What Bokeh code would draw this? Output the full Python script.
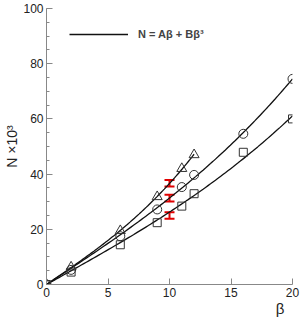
import numpy as np
from bokeh.plotting import figure
from bokeh.models import (Legend, LegendItem, Whisker, TeeHead, Title,
                          ColumnDataSource, FixedTicker)
from bokeh.embed import file_html
from bokeh.resources import INLINE

# ---- data ----
beta_tri = [0, 2, 6, 9, 11, 12]
N_tri = [0, 6.3, 19.5, 31.8, 42.0, 47.0]
beta_cir = [0, 2, 6, 9, 11, 12, 16, 20]
N_cir = [0, 5.3, 17.5, 27.2, 35.3, 39.7, 54.6, 74.5]
beta_sq = [0, 2, 6, 9, 11, 12, 16, 20]
N_sq = [0, 4.5, 14.4, 22.4, 28.4, 32.9, 47.9, 60.0]

eb_beta = [10, 10, 10]
eb_N = [36.7, 31.3, 25.0]
eb_err = [1.2, 1.2, 1.2]

x_ticks = [0, 5, 10, 15, 20]
y_ticks = [0, 20, 40, 60, 80, 100]

FONT = "Liberation Sans"
MK = "#333333"

p = figure(width=300, height=321, x_range=(0, 20), y_range=(0, 100),
           output_backend="svg", toolbar_location=None,
           min_border_left=46, min_border_right=8, min_border_top=8,
           min_border_bottom=37)
p.outline_line_color = None
p.grid.visible = False
p.background_fill_color = "white"
p.border_fill_color = "white"

for ax in (p.xaxis[0], p.yaxis[0]):
    ax.axis_line_color = "#888888"
    ax.major_tick_line_color = "#888888"
    ax.minor_tick_line_color = "#888888"
    ax.major_tick_in = 6
    ax.major_tick_out = 0
    ax.minor_tick_in = 3
    ax.minor_tick_out = 0
    ax.major_label_text_font = FONT
    ax.major_label_text_font_size = "12px"
    ax.major_label_text_color = "#222222"
p.xaxis.ticker = FixedTicker(ticks=x_ticks)
p.yaxis.ticker = FixedTicker(ticks=y_ticks,
                             minor_ticks=[v for v in range(0, 101, 5)])
p.xaxis.minor_tick_line_color = None
p.xaxis.major_label_standoff = 3
p.yaxis.major_label_standoff = 3

p.yaxis.axis_label = "N ×10³"
p.yaxis.axis_label_text_font = FONT
p.yaxis.axis_label_text_font_size = "14px"
p.yaxis.axis_label_text_font_style = "normal"
p.yaxis.axis_label_text_color = "#222222"
p.yaxis.axis_label_standoff = 0

p.add_layout(Title(text="β", align="right", offset=8, standoff=0,
                   vertical_align="top",
                   text_font=FONT, text_font_size="15px",
                   text_font_style="normal", text_color="#222222"), "below")


def fit_curve(b, n):
    b = np.asarray(b, float)
    n = np.asarray(n, float)
    M = np.column_stack([b, b ** 3])
    (A, B), *_ = np.linalg.lstsq(M, n, rcond=None)
    xs = np.linspace(0, b.max(), 100)
    return xs, A * xs + B * xs ** 3


curve_r = None
for b, n in ((beta_tri, N_tri), (beta_cir, N_cir), (beta_sq, N_sq)):
    xs, ys = fit_curve(b, n)
    r = p.line(xs, ys, line_color="#111111", line_width=1.3)
    if curve_r is None:
        curve_r = r

p.scatter(beta_tri, N_tri, marker="triangle", size=10, fill_color=None,
          line_color=MK, line_width=1)
p.scatter(beta_cir, N_cir, marker="circle", size=9, fill_color=None,
          line_color=MK, line_width=1)
p.scatter(beta_sq, N_sq, marker="square", size=8, fill_color=None,
          line_color=MK, line_width=1)

src = ColumnDataSource(dict(
    base=eb_beta,
    lower=[v - e for v, e in zip(eb_N, eb_err)],
    upper=[v + e for v, e in zip(eb_N, eb_err)],
))
wh = Whisker(source=src, base="base", lower="lower", upper="upper",
             dimension="height", line_color="#e00000", line_width=2,
             upper_head=TeeHead(size=10, line_color="#e00000", line_width=2),
             lower_head=TeeHead(size=10, line_color="#e00000", line_width=2))
p.add_layout(wh)

legend = Legend(items=[LegendItem(label="N = Aβ + Bβ³", renderers=[curve_r])],
                location=(23, 240), glyph_width=59, glyph_height=20,
                label_text_font=FONT, label_text_font_style="bold",
                label_text_font_size="11px", label_standoff=10,
                padding=0, margin=0, border_line_color=None,
                background_fill_alpha=0)
p.add_layout(legend)

open("out.html", "w").write(file_html(p, INLINE))
